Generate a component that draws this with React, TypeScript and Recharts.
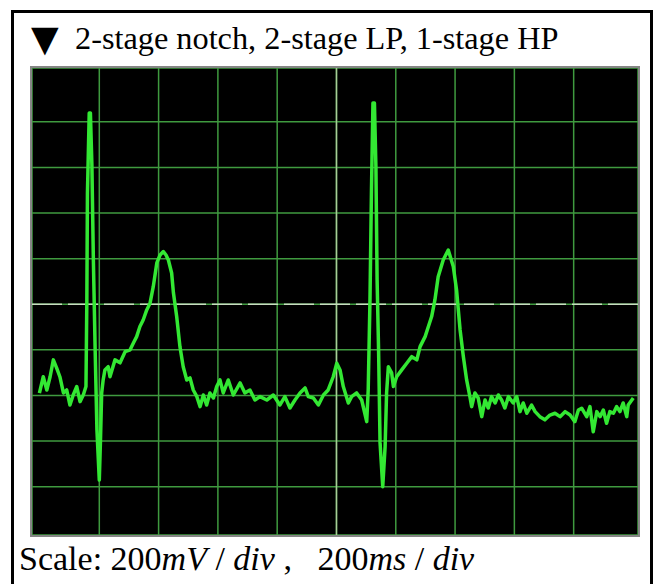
import React from 'react';
import { LineChart, Line, XAxis, YAxis, CartesianGrid, ReferenceLine } from 'recharts';

// ECG trace: time in ms, amplitude in mV
const timeMs = [
  -2, 11, 23, 34, 45, 56, 67, 79, 90, 101, 112, 124, 135, 146, 155, 158, 160, 166, 170, 175,
  180, 186, 192, 200, 204, 208, 213, 219, 230, 236, 253, 270, 287, 304, 315, 326, 337, 348, 360, 371,
  382, 394, 405, 416, 425, 433, 444, 450, 461, 472, 483, 495, 506, 517, 529, 540, 551, 562, 573, 585,
  596, 607, 618, 635, 652, 675, 691, 708, 725, 742, 765, 787, 809, 826, 843, 860, 877, 894, 905, 922,
  939, 956, 972, 989, 1001, 1012, 1023, 1040, 1051, 1068, 1085, 1102, 1107, 1113, 1118, 1123, 1128, 1133, 1137, 1142,
  1147, 1156, 1164, 1169, 1175, 1186, 1192, 1203, 1220, 1237, 1254, 1271, 1282, 1299, 1310, 1321, 1332, 1343, 1360, 1377,
  1394, 1405, 1417, 1428, 1439, 1450, 1456, 1467, 1478, 1490, 1501, 1512, 1523, 1535, 1546, 1557, 1568, 1580, 1596, 1608,
  1619, 1630, 1642, 1658, 1670, 1686, 1703, 1720, 1737, 1754, 1771, 1788, 1804, 1816, 1827, 1844, 1855, 1866, 1878, 1889,
  1900, 1911, 1922, 1934, 1945, 1956, 1967, 1979, 1984, 2001,
];

const voltageMv = [
  -390, -318, -376, -318, -244, -279, -318, -389, -376, -442, -398, -361, -427, -398, -361, 19, 488, 839, 839, 611,
  194, -200, -551, -771, -595, -389, -332, -288, -274, -318, -244, -257, -208, -200, -170, -142, -98, -69, -25, 4,
  77, 181, 216, 231, 216, 194, 137, 50, -54, -186, -274, -332, -323, -376, -405, -449, -398, -442, -389, -411,
  -361, -332, -389, -332, -398, -345, -389, -376, -420, -405, -420, -398, -442, -405, -455, -420, -389, -367, -405, -411,
  -442, -398, -376, -318, -259, -288, -361, -433, -405, -389, -420, -515, -376, 19, 501, 882, 882, 604, 107, -200,
  -608, -800, -625, -389, -274, -301, -361, -318, -288, -259, -230, -244, -186, -142, -98, -54, 19, 121, 194, 238,
  165, 63, -113, -230, -332, -405, -449, -389, -411, -493, -420, -455, -405, -433, -398, -420, -455, -405, -433, -405,
  -471, -433, -478, -442, -471, -493, -507, -486, -478, -493, -471, -486, -515, -464, -456, -493, -449, -559, -471, -493,
  -464, -522, -471, -478, -449, -471, -433, -493, -442, -411,
];

// 200 ms/div and 200 mV/div grid
const timeTicks = [200, 400, 600, 800, 1000, 1200, 1400, 1600, 1800];
const voltTicks = [-1000, -800, -600, -400, -200, 0, 200, 400, 600, 800];

const data = timeMs.map((t, i) => ({ t, v: voltageMv[i] }));

const serif = '"Liberation Serif", "Times New Roman", serif';

const App: React.FC = () => {
  return (
    <div style={{ position: 'absolute', left: 0, top: 0, width: 659, height: 584, overflow: 'hidden', background: '#fff' }}>
      {/* outer frame, open at the bottom */}
      <div
        style={{
          position: 'absolute',
          left: 11,
          top: 10,
          width: 636,
          height: 600,
          border: '3px solid #000',
        }}
      />

      <div
        style={{
          position: 'absolute',
          left: 31,
          top: 19,
          fontFamily: '"DejaVu Sans", sans-serif',
          fontSize: 36,
          lineHeight: '40px',
          color: '#000',
        }}
      >
        ▼
      </div>
      <div
        style={{
          position: 'absolute',
          left: 75,
          top: 18,
          fontFamily: serif,
          fontSize: 32.3,
          whiteSpace: 'pre',
          color: '#000',
          lineHeight: '40px',
        }}
      >
        2-stage notch, 2-stage LP, 1-stage HP
      </div>

      {/* scope screen */}
      <div
        style={{
          position: 'absolute',
          left: 30,
          top: 66,
          width: 606,
          height: 467,
          border: '2px solid #858585',
          background: '#000',
        }}
      >
        <LineChart width={606} height={467} data={data} margin={{ top: 0, right: 0, bottom: 0, left: 0 }}>
          <XAxis dataKey="t" type="number" domain={[-27, 2017]} ticks={timeTicks} hide />
          <YAxis type="number" domain={[-1012, 1036]} ticks={voltTicks} hide />
          <CartesianGrid stroke="#3f9a3f" strokeWidth={1.5} />
          <ReferenceLine x={1000} stroke="#a8cc98" strokeWidth={1.5} />
          <ReferenceLine y={0} stroke="#c8dcc0" strokeWidth={1.5} strokeDasharray="30 6" />
          <Line
            type="linear"
            dataKey="v"
            stroke="#33e833"
            strokeWidth={3.5}
            strokeLinejoin="round"
            dot={false}
            isAnimationActive={false}
          />
        </LineChart>
      </div>

      <div
        style={{
          position: 'absolute',
          left: 19,
          top: 539,
          fontFamily: serif,
          fontSize: 34,
          whiteSpace: 'pre',
          color: '#000',
          lineHeight: '40px',
        }}
      >
        {'Scale: 200'}
        <i>mV</i>
        {' / '}
        <i>div</i>
        {' ,   200'}
        <i>ms</i>
        {' / '}
        <i>div</i>
      </div>
    </div>
  );
};

export default App;
